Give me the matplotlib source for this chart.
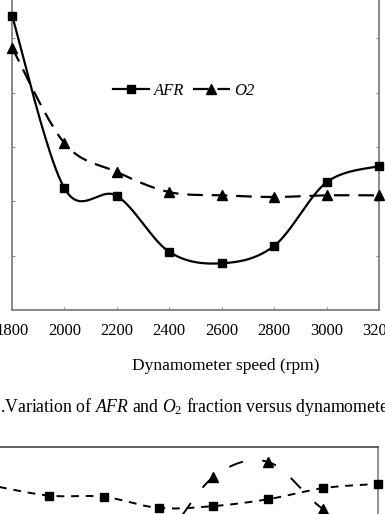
import numpy as np
import matplotlib
matplotlib.use("Agg")
import matplotlib.pyplot as plt
from matplotlib.lines import Line2D

plt.rcParams['font.family'] = ['Liberation Serif', 'DejaVu Serif']
plt.rcParams['mathtext.fontset'] = 'custom'
plt.rcParams['mathtext.rm'] = 'Liberation Serif'
plt.rcParams['mathtext.it'] = 'Liberation Serif:italic'

# ---- data (top chart) ----
speed = [1800, 2000, 2200, 2400, 2600, 2800, 3000, 3200]
afr = [5.42, 2.24, 2.10, 1.07, 0.86, 1.18, 2.35, 2.65]
o2 = [4.83, 3.07, 2.54, 2.17, 2.11, 2.08, 2.11, 2.11]
xtick_labels = ['1800', '2000', '2200', '2400', '2600', '2800', '3000', '3200']

# ---- data (bottom chart, partly visible) ----
idx2 = [1, 2, 3, 4, 5, 6, 7, 8]
sq2 = [8.70, 8.38, 8.34, 7.97, 8.03, 8.26, 8.63, 8.77]
tri2 = [5.57, 5.57, 5.57, 6.73, 9.00, 9.50, 7.93, 7.07]


def smooth(xs, ys, n=40):
    xs = np.asarray(xs, float)
    ys = np.asarray(ys, float)
    P = np.column_stack([xs, ys])
    P = np.vstack([P[0], P, P[-1]])
    out = []
    t = np.linspace(0, 1, n)[:, None]
    for i in range(1, len(P) - 2):
        p0, p1, p2, p3 = P[i - 1], P[i], P[i + 1], P[i + 2]
        c1 = p1 + (p2 - p0) / 6.0
        c2 = p2 - (p3 - p1) / 6.0
        seg = ((1 - t) ** 3) * p1 + 3 * ((1 - t) ** 2) * t * c1 + 3 * (1 - t) * t ** 2 * c2 + t ** 3 * p2
        out.append(seg if i == 1 else seg[1:])
    seg = np.vstack(out)
    return seg[:, 0], seg[:, 1]


W, H = 385, 514
fig = plt.figure(figsize=(W / 100, H / 100), dpi=100)

# ---- top chart ----
ax = fig.add_axes([12 / W, (H - 310) / H, (379 - 12) / W, 326 / H])
ax.set_xlim(1800, 3200)
ax.set_ylim(0, 6)

xs, ys = smooth(speed, afr)
ax.plot(xs, ys, color='black', lw=1.6, solid_capstyle='butt')
ax.plot(speed, afr, ls='none', marker='s', ms=6.2, color='black', clip_on=False, zorder=5)
xs, ys = smooth(speed, o2)
ax.plot(xs, ys, color='black', lw=1.6, dashes=(7, 4))
ax.plot(speed, o2, ls='none', marker='^', ms=6.5, color='black', clip_on=False, zorder=5)

ax.set_xticks(speed)
ax.set_xticklabels(xtick_labels)
ax.set_yticks([1, 2, 3, 4, 5])
ax.tick_params(axis='x', direction='in', length=2.5, width=0.8, color='#888888',
               labelsize=12, pad=9.2)
ax.tick_params(axis='y', direction='in', length=2.5, width=0.8, color='#888888',
               left=True, right=True, labelleft=False, labelright=False)
for s in ax.spines.values():
    s.set_color('#808080')
    s.set_linewidth(1.3)
ax.set_xlabel('Dynamometer speed (rpm)', fontsize=12.5, va='center')
ax.xaxis.set_label_coords((225.5 - 12) / 367, (310 - 366) / 326)

handles = [
    Line2D([], [], color='black', lw=1.6, marker='s', ms=6.2),
    Line2D([], [], color='black', lw=1.6, dashes=(7, 4), marker='^', ms=6.5),
]
ax.legend(handles, ['AFR', 'O2'], loc='center', bbox_to_anchor=(0.468, 0.672),
          ncol=2, frameon=False, handlelength=2.2, handletextpad=0.3,
          columnspacing=0.5, prop={'style': 'italic', 'size': 12})

# ---- caption ----
fig.text(0.5 / W, (H - 407.5) / H,
         r'.Variation of $\mathit{AFR}$ and $\mathit{O}_2$ fraction versus dynamometer speed',
         fontsize=12.8, ha='left', va='center')

# ---- bottom chart (partly visible) ----
left_px = -6 - 54.83
ax2 = fig.add_axes([left_px / W, (H - 747) / H, (378 - left_px) / W, 300 / H])
ax2.set_xlim(0, 8)
ax2.set_ylim(0, 10)
xs, ys = smooth(idx2, sq2)
ax2.plot(xs, ys, color='black', lw=1.4, dashes=(4, 3.5))
ax2.plot(idx2, sq2, ls='none', marker='s', ms=5.8, color='black', clip_on=False, zorder=5)
xs, ys = smooth(idx2, tri2)
ax2.plot(xs, ys, color='black', lw=1.4, dashes=(7.5, 10))
ax2.plot(idx2, tri2, ls='none', marker='^', ms=6.5, color='black', clip_on=False, zorder=5)
ax2.set_xticks([])
ax2.set_yticks([])
ax2.spines['top'].set_color('#555555')
ax2.spines['right'].set_color('#888888')
for s in ax2.spines.values():
    s.set_linewidth(1.3)

fig.savefig('out.png', dpi=100)
